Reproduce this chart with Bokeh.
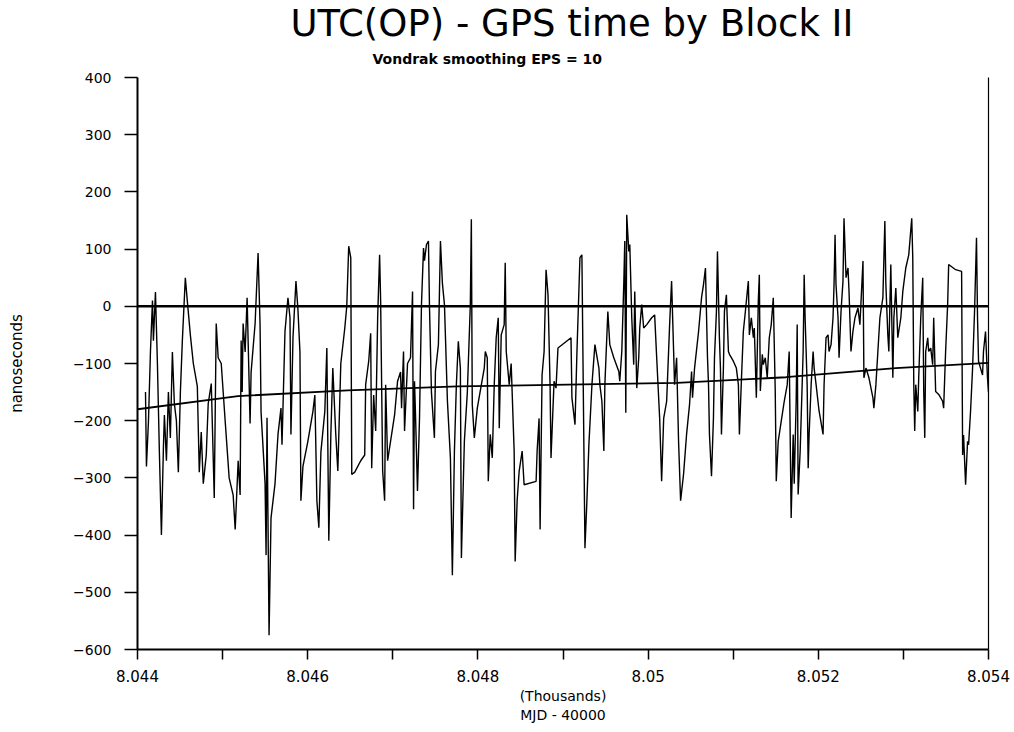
from bokeh.plotting import figure
from bokeh.models import Range1d, FixedTicker, LinearAxis, Span, Title
from bokeh.embed import file_html
from bokeh.resources import INLINE

# ---- data (MJD - 40000, days) ----
mjd = [
    8044.094, 8044.105, 8044.129, 8044.152, 8044.176, 8044.187, 8044.211, 8044.234, 8044.258, 8044.281,
    8044.304, 8044.316, 8044.340, 8044.363, 8044.386, 8044.410, 8044.433, 8044.457, 8044.480, 8044.504,
    8044.527, 8044.562, 8044.585, 8044.621, 8044.656, 8044.703, 8044.726, 8044.749, 8044.773, 8044.808,
    8044.831, 8044.867, 8044.902, 8044.925, 8044.948, 8044.984, 8045.030, 8045.077, 8045.124, 8045.148,
    8045.183, 8045.206, 8045.218, 8045.230, 8045.241, 8045.265, 8045.288, 8045.323, 8045.335, 8045.382,
    8045.417, 8045.440, 8045.452, 8045.499, 8045.511, 8045.522, 8045.546, 8045.569, 8045.616, 8045.651,
    8045.686, 8045.698, 8045.733, 8045.768, 8045.792, 8045.803, 8045.827, 8045.862, 8045.885, 8045.909,
    8045.920, 8045.944, 8046.002, 8046.061, 8046.084, 8046.108, 8046.131, 8046.155, 8046.201, 8046.225,
    8046.248, 8046.272, 8046.295, 8046.330, 8046.354, 8046.389, 8046.436, 8046.459, 8046.482, 8046.506,
    8046.518, 8046.553, 8046.623, 8046.670, 8046.681, 8046.717, 8046.740, 8046.752, 8046.775, 8046.799,
    8046.822, 8046.845, 8046.857, 8046.881, 8046.904, 8046.916, 8046.939, 8047.021, 8047.056, 8047.091,
    8047.103, 8047.126, 8047.138, 8047.173, 8047.208, 8047.232, 8047.244, 8047.255, 8047.267, 8047.290,
    8047.314, 8047.337, 8047.361, 8047.372, 8047.396, 8047.419, 8047.431, 8047.454, 8047.489, 8047.501,
    8047.536, 8047.560, 8047.583, 8047.607, 8047.642, 8047.677, 8047.700, 8047.724, 8047.747, 8047.770,
    8047.794, 8047.806, 8047.841, 8047.876, 8047.911, 8047.923, 8047.934, 8047.958, 8047.993, 8048.028,
    8048.075, 8048.087, 8048.110, 8048.122, 8048.145, 8048.169, 8048.192, 8048.215, 8048.239, 8048.251,
    8048.274, 8048.309, 8048.321, 8048.333, 8048.368, 8048.391, 8048.426, 8048.438, 8048.461, 8048.485,
    8048.520, 8048.543, 8048.684, 8048.696, 8048.719, 8048.731, 8048.754, 8048.778, 8048.801, 8048.824,
    8048.848, 8048.859, 8048.895, 8048.918, 8048.941, 8049.094, 8049.105, 8049.141, 8049.164, 8049.199,
    8049.222, 8049.246, 8049.258, 8049.281, 8049.304, 8049.340, 8049.375, 8049.422, 8049.433, 8049.457,
    8049.480, 8049.492, 8049.527, 8049.550, 8049.597, 8049.656, 8049.667, 8049.691, 8049.714, 8049.726,
    8049.738, 8049.749, 8049.773, 8049.785, 8049.808, 8049.831, 8049.843, 8049.867, 8049.890, 8049.902,
    8049.925, 8049.948, 8049.984, 8050.042, 8050.077, 8050.101, 8050.136, 8050.159, 8050.183, 8050.218,
    8050.253, 8050.276, 8050.300, 8050.311, 8050.335, 8050.358, 8050.382, 8050.417, 8050.452, 8050.487,
    8050.511, 8050.522, 8050.546, 8050.593, 8050.628, 8050.651, 8050.674, 8050.698, 8050.710, 8050.721,
    8050.745, 8050.768, 8050.780, 8050.803, 8050.815, 8050.838, 8050.850, 8050.862, 8050.885, 8050.897,
    8050.920, 8050.944, 8050.956, 8051.002, 8051.037, 8051.061, 8051.073, 8051.096, 8051.119, 8051.143,
    8051.166, 8051.178, 8051.190, 8051.213, 8051.237, 8051.248, 8051.272, 8051.295, 8051.307, 8051.319,
    8051.342, 8051.354, 8051.377, 8051.400, 8051.424, 8051.447, 8051.471, 8051.494, 8051.506, 8051.529,
    8051.564, 8051.600, 8051.635, 8051.658, 8051.681, 8051.705, 8051.717, 8051.740, 8051.752, 8051.763,
    8051.787, 8051.822, 8051.834, 8051.845, 8051.869, 8051.881, 8051.892, 8051.916, 8051.939, 8051.951,
    8051.974, 8052.009, 8052.056, 8052.068, 8052.091, 8052.115, 8052.126, 8052.150, 8052.173, 8052.185,
    8052.197, 8052.208, 8052.232, 8052.244, 8052.267, 8052.290, 8052.302, 8052.326, 8052.349, 8052.361,
    8052.384, 8052.407, 8052.431, 8052.466, 8052.489, 8052.525, 8052.536, 8052.560, 8052.595, 8052.642,
    8052.653, 8052.677, 8052.700, 8052.724, 8052.759, 8052.782, 8052.794, 8052.817, 8052.829, 8052.852,
    8052.876, 8052.888, 8052.911, 8052.934, 8052.970, 8052.993, 8053.028, 8053.063, 8053.098, 8053.110,
    8053.122, 8053.133, 8053.145, 8053.169, 8053.180, 8053.204, 8053.227, 8053.239, 8053.251, 8053.262,
    8053.286, 8053.297, 8053.321, 8053.344, 8053.356, 8053.379, 8053.415, 8053.461, 8053.473, 8053.496,
    8053.520, 8053.532, 8053.614, 8053.684, 8053.696, 8053.707, 8053.731, 8053.754, 8053.766, 8053.789,
    8053.813, 8053.836, 8053.859, 8053.871, 8053.883, 8053.906, 8053.930, 8053.941, 8053.965, 8053.988,
    8054.000,
]

utc_minus_gps = [
    -150, -280, -200, -80, 10, -60, 25, -100, -260, -400,
    -250, -190, -270, -150, -230, -80, -170, -200, -290, -150,
    -60, 50, 10, -50, -100, -140, -290, -220, -310, -260,
    -170, -135, -335, -30, -90, -100, -200, -300, -330, -390,
    -270, -330, -60, -150, -30, -80, 15, -205, -115, -30,
    93, -30, -185, -310, -435, -195, -575, -370, -310, -224,
    -178, -242, -44, 15, -20, -224, -55, 44, -5, -80,
    -340, -280, -236, -184, -155, -340, -387, -255, -184, -73,
    -410, -224, -108, -224, -288, -100, -38, 0, 105, 85,
    -294, -290, -270, -260, -137, -96, -47, -283, -155, -218,
    -20, 90, 10, -288, -340, -137, -270, -190, -131, -115,
    -178, -79, -218, -100, -90, 26, -355, -131, -190, -323,
    -195, 3, 102, 80, 108, 114, 0, -150, -230, -114,
    -67, 114, 40, 3, -166, -265, -470, -254, -137, -61,
    -108, -440, -236, -150, 3, 152, -172, -230, -178, -148,
    -108, -79, -90, -306, -224, -265, -137, -55, -20, -213,
    -50, -32, 76, -79, -137, -100, -253, -446, -340, -288,
    -253, -312, -306, -253, -196, -390, -120, -79, 64, 20,
    -137, -265, -131, -143, -73, -55, -160, -207, -79, 85,
    90, -253, -423, -340, -243, -137, -67, -108, -137, -166,
    -253, -137, -9, -67, -90, -114, -131, -79, 38, 114,
    -186, 160, 96, 108, -20, -102, 26, -143, -90, -38,
    3, -38, -32, -20, -15, -90, -196, -306, -196, -166,
    -32, 44, -79, -137, -90, -236, -340, -293, -224, -172,
    -114, -160, -108, -44, 15, 38, 67, -90, -137, -224,
    -297, -195, -90, -9, 96, -55, -108, -224, -108, -9,
    20, -79, -84, -96, -108, -137, -224, -131, -44, -9,
    26, 44, -50, -20, -55, -38, -160, 9, 55, -148,
    -84, -102, -90, -125, -55, -32, 15, -148, -306, -236,
    -201, -166, -137, -79, -370, -224, -310, -166, -32, -329,
    -253, -79, 55, -20, -137, -283, -224, -137, -79, -108,
    -137, -183, -224, -137, -55, -50, -79, -67, -20, 38,
    125, 38, -20, -90, -9, 44, 154, 50, 67, 26,
    -79, -44, -20, -3, -32, 79, -125, -108, -125, -160,
    -178, -137, -79, -20, 15, 149, 38, -50, -79, 73,
    -125, -20, 32, -55, -20, 26, 67, 90, 154, 85,
    -137, -218, -137, -184, -125, -20, 50, -149, -230, -79,
    -55, -79, -73, -102, -20, -149, -154, -166, -178, -79,
    3, 73, 64, 61, -260, -225, -312, -236, -242, -184,
    -108, -9, 120, -20, -96, -108, -120, -79, -44, -125,
    -150,
]

# Vondrak-smoothed curve
smooth_mjd = [8044.0, 8045.18, 8046.47, 8047.76, 8049.05, 8050.34, 8051.62, 8052.91, 8054.0]
smooth_ns = [-180, -157, -147, -140, -137, -134, -124, -108, -99]

# axis ticks / labels
x_ticks = [8.044, 8.046, 8.048, 8.05, 8.052, 8.054]
x_tick_labels = ["8.044", "8.046", "8.048", "8.05", "8.052", "8.054"]
x_minor_ticks = [8.045, 8.047, 8.049, 8.051, 8.053]
y_ticks = [-600, -500, -400, -300, -200, -100, 0, 100, 200, 300, 400]
y_tick_labels = ["\u2212600", "\u2212500", "\u2212400", "\u2212300", "\u2212200", "\u2212100",
                 "0", "100", "200", "300", "400"]
zero_level = 0

x = [m / 1000 for m in mjd]
sx = [m / 1000 for m in smooth_mjd]

p = figure(width=1014, height=732, output_backend="svg", toolbar_location=None,
           x_range=Range1d(8.044, 8.054), y_range=Range1d(-600, 400),
           min_border_left=137, min_border_right=26, min_border_top=77, min_border_bottom=83,
           background_fill_color="white", border_fill_color="white")
p.outline_line_color = None
p.grid.visible = False

p.line(x, utc_minus_gps, line_color="black", line_width=1.4)
p.line(sx, smooth_ns, line_color="black", line_width=1.8)
p.add_layout(Span(location=zero_level, dimension="width", line_color="black", line_width=2.4))

tick_font = "DejaVu Sans"

xa = p.xaxis[0]
xa.ticker = FixedTicker(ticks=x_ticks, minor_ticks=x_minor_ticks)
xa.major_label_overrides = {t: l for t, l in zip(x_ticks, x_tick_labels)}
xa.axis_line_width = 2
xa.major_tick_out = 10
xa.major_tick_in = 0
xa.minor_tick_out = 10
xa.minor_tick_in = 0
xa.major_tick_line_width = 1.5
xa.minor_tick_line_width = 1.5
xa.major_label_standoff = 10
xa.major_label_text_font = tick_font
xa.major_label_text_font_size = "15px"
xa.major_label_text_color = "black"
xa.axis_label = "(Thousands)\nMJD - 40000"
xa.axis_label_text_font = tick_font
xa.axis_label_text_font_size = "14px"
xa.axis_label_text_font_style = "normal"
xa.axis_label_text_color = "black"
xa.axis_label_standoff = 3

ya = p.yaxis[0]
ya.ticker = FixedTicker(ticks=y_ticks, minor_ticks=[])
ya.major_label_overrides = {t: l for t, l in zip(y_ticks, y_tick_labels)}
ya.axis_line_width = 2
ya.major_tick_out = 13
ya.major_tick_in = 0
ya.major_tick_line_width = 1.5
ya.minor_tick_out = 0
ya.minor_tick_in = 0
ya.major_label_standoff = 13
ya.major_label_text_font = tick_font
ya.major_label_text_font_size = "14px"
ya.major_label_text_color = "black"
ya.axis_label = "nanoseconds"
ya.axis_label_text_font = tick_font
ya.axis_label_text_font_size = "15px"
ya.axis_label_text_font_style = "normal"
ya.axis_label_text_color = "black"
ya.axis_label_standoff = 44

right = LinearAxis(ticker=FixedTicker(ticks=[]), axis_line_width=1.2,
                   major_tick_out=0, minor_tick_out=0, major_tick_in=0, minor_tick_in=0)
p.add_layout(right, "right")

sub = Title(text="Vondrak smoothing EPS = 10", align="left", offset=235,
            text_font=tick_font, text_font_size="14px", text_font_style="bold",
            text_color="black", standoff=22)
p.add_layout(sub, "above")
main = Title(text="UTC(OP) - GPS time  by Block II", align="left", offset=153,
             text_font="DejaVu Sans", text_font_size="37px", text_font_style="normal",
             text_color="black", standoff=-14)
p.add_layout(main, "above")

open("out.html", "w").write(file_html(p, INLINE))
